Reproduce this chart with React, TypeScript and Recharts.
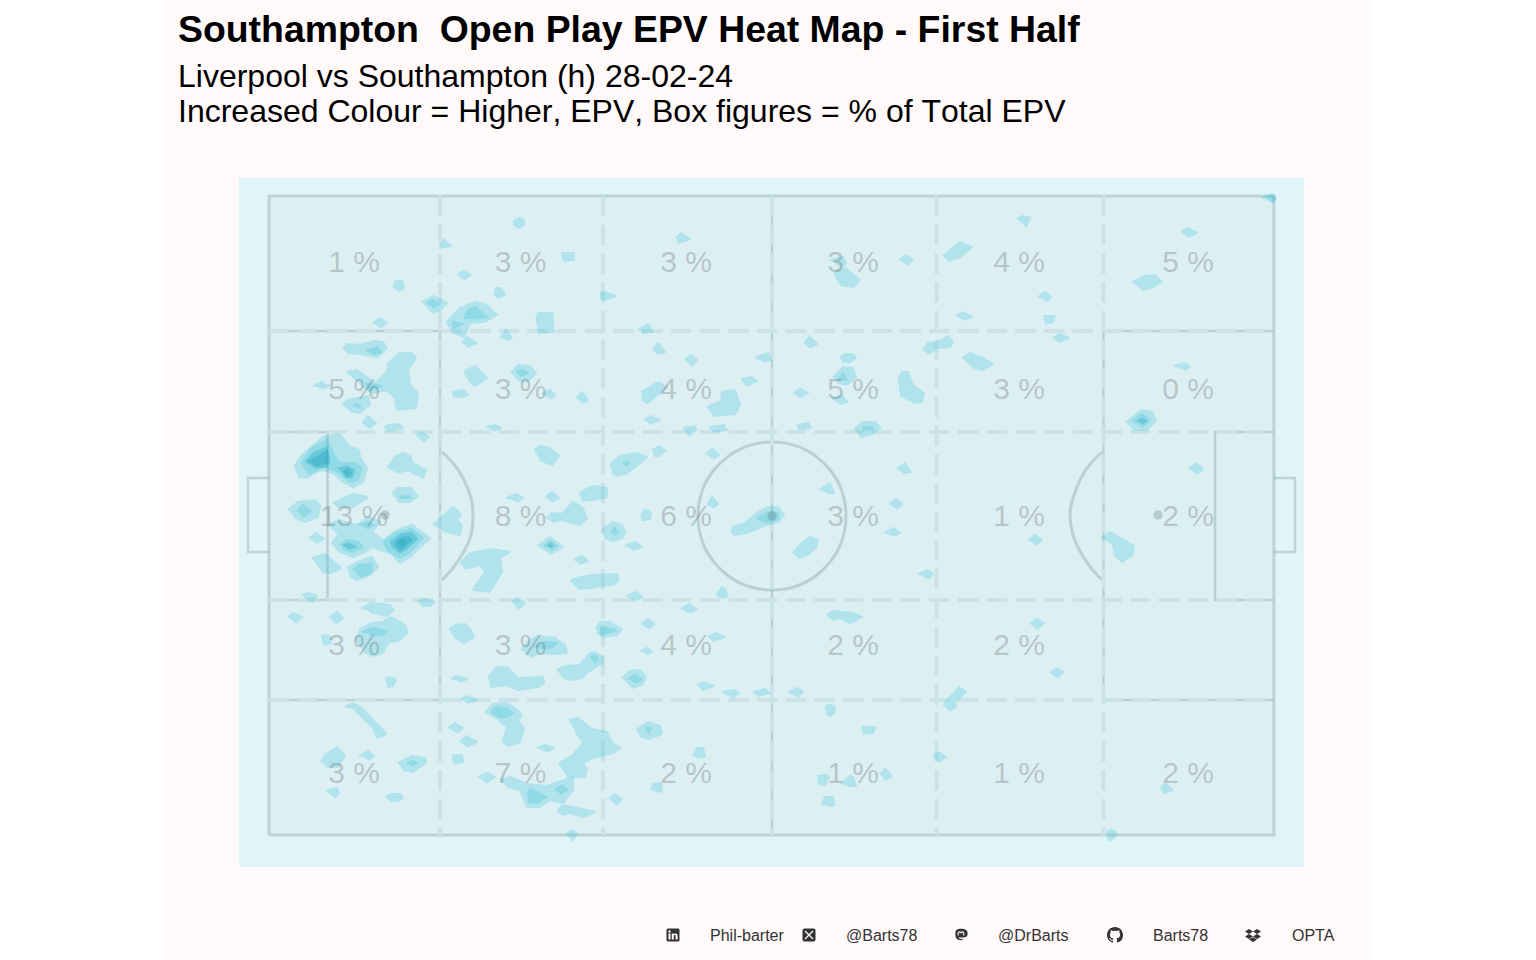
import { ScatterChart, Scatter, XAxis, YAxis } from "recharts";

type Pt = [number, number];

// pitch units: 100.5 long, 63.9 wide
const pitchFill: Pt[] = [[0, 0], [100.5, 0], [100.5, 63.9], [0, 63.9]];

const solidLines: Pt[][] = [
  [[0, 0], [100.5, 0], [100.5, 63.9], [0, 63.9], [0, 0]],
  [[0, 50.4], [17.1, 50.4], [17.1, 13.5], [0, 13.5]],
  [[100.5, 50.4], [83.45, 50.4], [83.45, 13.5], [100.5, 13.5]],
  [[0, 40.3], [5.85, 40.3], [5.85, 23.5], [0, 23.5]],
  [[100.5, 40.3], [94.6, 40.3], [94.6, 23.5], [100.5, 23.5]],
  [[0, 35.7], [-2.1, 35.7], [-2.1, 28.3], [0, 28.3]],
  [[100.5, 35.7], [102.6, 35.7], [102.6, 28.3], [100.5, 28.3]],
  [[50.3, 63.9], [50.3, 0]],
];

const arcLeft: Pt[] = [[17.3, 38.3], [18.4, 37.2], [19.4, 35.7], [20.2, 33.7], [20.4, 32], [20.2, 30], [19.4, 28.2], [18.4, 26.7], [17.3, 25.5]];
const arcRight: Pt[] = [[83.3, 38.3], [82.2, 37.2], [81.2, 35.7], [80.4, 33.7], [80.1, 32], [80.4, 30], [81.2, 28.2], [82.2, 26.7], [83.3, 25.5]];

const dashedLines: Pt[][] = [
  [[0, 50.4], [100.5, 50.4]],
  [[0, 40.3], [100.5, 40.3]],
  [[0, 23.5], [100.5, 23.5]],
  [[0, 13.5], [100.5, 13.5]],
  [[17.1, 63.9], [17.1, 0]],
  [[33.4, 63.9], [33.4, 0]],
  [[50.3, 63.9], [50.3, 0]],
  [[66.75, 63.9], [66.75, 0]],
  [[83.45, 63.9], [83.45, 0]],
];

const spots = [{ x: 11.6, y: 32 }, { x: 50.3, y: 31.9 }, { x: 88.9, y: 32 }];
const centreCircle = [{ x: 50.3, y: 31.9 }];

const boxColumns = [8.5, 25.15, 41.7, 58.4, 75, 91.9];
const boxRows = [57.4, 44.7, 31.95, 19.1, 6.3];
const boxShares = [
  ["1 %", "3 %", "3 %", "3 %", "4 %", "5 %"],
  ["5 %", "3 %", "4 %", "5 %", "3 %", "0 %"],
  ["13 %", "8 %", "6 %", "3 %", "1 %", "2 %"],
  ["3 %", "3 %", "4 %", "2 %", "2 %", ""],
  ["3 %", "7 %", "2 %", "1 %", "1 %", "2 %"],
];

const contourBand1: Pt[][] = [
  [[25, 61.8], [25.5, 61.5], [25.5, 61], [25, 60.7], [24.5, 61], [24.5, 61.5]],
  [[17.4, 59.6], [18.2, 58.9], [17, 58.7]],
  [[29.2, 58.2], [30.5, 58.2], [30.5, 57.5], [29.6, 57.4], [29.3, 57.6]],
  [[18.8, 56], [19.4, 56.4], [20.2, 56], [19.5, 55.5]],
  [[22.5, 54], [22.7, 54.7], [23.2, 54.7], [23.6, 54], [22.8, 53.7]],
  [[33.1, 54.2], [33.4, 54.3], [34.7, 53.9], [33.6, 53.5], [33.1, 53.7]],
  [[12.4, 54.7], [12.7, 55.4], [13.3, 55.4], [13.5, 54.7], [13, 54.4]],
  [[15.3, 53.3], [16.4, 53.9], [17.8, 53.2], [17.1, 52.5], [16.3, 52.2]],
  [[10.4, 51.2], [11.1, 51.7], [11.8, 51.2], [11.1, 50.7]],
  [[17.7, 51.2], [19.1, 52.7], [20.6, 53.3], [21.8, 53], [22.8, 52], [21.6, 51.3], [20.1, 51.2], [19.5, 49.8], [18.3, 50.3]],
  [[26.7, 51.5], [26.9, 52.2], [28.3, 52.2], [28.5, 50.3], [26.9, 50.2]],
  [[23.1, 49.7], [23.7, 50.5], [24.3, 49.7], [23.8, 49.5]],
  [[19.3, 49.2], [19.8, 49.8], [20.8, 49.2], [19.8, 48.8]],
  [[7.4, 48.7], [7.8, 49.1], [9.1, 49], [10.6, 49.4], [11.4, 49.3], [11.8, 48.7], [10.8, 47.8], [9.1, 48.1], [7.8, 48.2]],
  [[7.7, 46.3], [8.8, 46.5], [10.6, 45.2], [11.8, 46.3], [11.9, 47.2], [13.1, 48.2], [14.3, 48.2], [14.7, 47.7], [13.9, 46.5], [14.1, 45], [14.9, 44.2], [14.7, 42.7], [12.8, 42.5], [12.6, 43.7], [11.8, 44.5], [10.4, 44.2], [9.3, 44.9]],
  [[4.4, 44.9], [5.3, 45.3], [6, 44.9], [5.3, 44.6]],
  [[7.3, 43], [7.8, 43.5], [9.9, 43.9], [10.1, 43], [9.1, 42.2], [8.1, 42.4]],
  [[9.3, 41.2], [9.9, 41.9], [10.7, 41.2], [10, 40.6]],
  [[11.5, 40.7], [11.9, 41], [13.1, 41.1], [13.4, 40.7], [11.8, 40.4]],
  [[19.5, 46.3], [20.6, 46.9], [21.8, 45.7], [20.6, 44.9], [19.9, 45.5]],
  [[24.2, 46.2], [24.9, 47], [26.1, 46.9], [26.7, 46.2], [25.8, 45.3], [24.8, 45.5]],
  [[18.3, 44.3], [19.4, 44.5], [19.9, 44], [19.3, 43.8], [18.4, 43.9]],
  [[27.3, 44.1], [28.1, 44.5], [28.6, 44], [28.1, 43.6]],
  [[30.7, 43.7], [31.3, 44.3], [31.9, 43.5], [31.3, 43.2]],
  [[21.7, 40.8], [22.6, 41], [23.2, 40.7], [22.4, 40.4]],
  [[2.5, 36.8], [3.3, 38], [5.4, 39.8], [7.1, 40.1], [8.1, 38.8], [9, 38.5], [9.1, 37.8], [9.8, 36.7], [9.4, 35.3], [8.4, 34.8], [7.4, 35.3], [6.4, 36.2], [5.1, 36.5], [3.8, 35.7], [2.9, 35.8]],
  [[11.8, 36.7], [12.6, 37.8], [13.4, 38.2], [14.2, 37.8], [14.3, 37.2], [15.7, 36.5], [15.4, 35.7], [14.4, 36.2], [13.9, 36.5], [12.8, 36.2]],
  [[12.3, 34.2], [12.9, 34.7], [14.1, 34.7], [14.9, 33.9], [14.1, 33.3], [12.9, 33.3]],
  [[6.4, 33.2], [8.4, 34.1], [9.9, 33.8], [8.4, 32.8], [6.8, 32.8]],
  [[1.9, 32.5], [2.9, 33.3], [4.6, 33.5], [5.1, 33], [4.9, 31.8], [3.6, 31.3], [2.6, 31.7]],
  [[5.9, 31], [6.9, 31.5], [8.8, 31], [9.9, 31.8], [11.1, 31.3], [10.3, 30.3], [11.4, 29.5], [12.8, 30.5], [14.3, 31], [16.1, 29.7], [14.1, 27.8], [13.1, 27.2], [12.1, 28.2], [10.3, 28.8], [9.6, 28.3], [8.4, 27.8], [7.1, 28.3], [6.3, 29.2], [6.9, 30]],
  [[4, 29.7], [4.7, 30.2], [5.5, 29.6], [4.7, 29.2]],
  [[4.3, 27.7], [5.6, 28.1], [7.2, 26.7], [6.3, 26.2], [5.3, 26.3]],
  [[7.8, 26.7], [8.8, 27.3], [10.3, 27.8], [10.9, 26.8], [10.1, 26], [8.8, 25.5], [8.1, 25.8]],
  [[16.4, 31], [18.4, 32.8], [19.2, 32.1], [18.8, 31.5], [19.3, 31], [19.1, 30], [17.4, 30.4]],
  [[14.7, 39.9], [15.3, 40.3], [16, 39.8], [15.4, 39.3]],
  [[26.5, 38.5], [27.1, 38.9], [28.1, 38.7], [29, 37.9], [28.3, 37], [27.1, 37.5]],
  [[23.7, 33.7], [24.8, 34.1], [25.4, 33.7], [24.8, 33.3]],
  [[27.6, 33.8], [28.3, 34.3], [29, 33.7], [28.3, 33.3]],
  [[31, 34.2], [32.4, 34.9], [33.8, 34.7], [33.8, 33.8], [32.4, 33.5], [31.3, 33.4]],
  [[27.7, 31.7], [28.3, 32.2], [29.3, 32.1], [30.4, 33.3], [31.3, 32.8], [31.8, 31.7], [31.1, 31], [29.3, 31.5], [28.3, 31.3]],
  [[26.8, 28.9], [28.1, 29.8], [29.4, 28.8], [28.1, 28.1]],
  [[19.1, 27.2], [20.1, 28.2], [22.4, 28.6], [24.1, 28.3], [23.1, 27.7], [23.3, 26.3], [22.1, 24.3], [20.4, 24.5], [21.6, 26.3], [21.1, 27], [19.6, 26.6]],
  [[30.5, 27.5], [31.3, 27.9], [31.9, 27.4], [31.1, 27.1]],
  [[30.1, 25.4], [31.1, 25.8], [32.4, 26], [34.8, 26.1], [35, 25.5], [34.6, 25.1], [32.1, 24.7], [30.9, 24.6]],
  [[3.3, 24], [4, 24.2], [4.8, 23.9], [4.5, 23.4], [3.8, 23.5]],
  [[14.9, 23.3], [15.4, 23.6], [16.6, 23.3], [16.1, 22.9], [15.3, 22.9]],
  [[24.3, 23.3], [24.9, 23.7], [25.6, 23.2], [24.9, 22.6]],
  [[1.9, 21.8], [2.4, 22.2], [3.3, 21.8], [2.6, 21.2]],
  [[6, 21.7], [6.8, 22.3], [7.4, 21.7], [6.7, 21.1]],
  [[9.2, 22.7], [10.3, 23.2], [12.1, 23], [12.5, 22.5], [11.8, 21.9], [10.1, 22.3]],
  [[9, 20.5], [10.3, 21.2], [11.3, 21.3], [12.3, 21.8], [13.6, 21], [13.9, 20.3], [13.1, 19.5], [11.9, 19.2], [11.4, 18.2], [10.4, 17.9], [9.6, 18.3], [8.6, 19.7]],
  [[5.2, 19.8], [5.6, 20], [6.2, 19.8], [6.2, 19.2], [5.4, 19]],
  [[18, 20.6], [18.6, 21], [19.6, 21.1], [20.3, 20.3], [20.5, 19.8], [19.5, 19.2], [18.4, 19.9]],
  [[25.2, 18.5], [26.1, 19.5], [26.8, 19.9], [28.6, 19.7], [29.6, 19], [29.8, 18.2], [28.6, 18.1], [27.1, 18.2], [26.1, 17.8]],
  [[28.8, 16.5], [29.6, 16.9], [31.1, 17], [32.1, 18.2], [32.6, 18.3], [33.4, 17.7], [33.4, 17.2], [31.9, 16.3], [31.3, 15.7], [30.1, 15.5], [29.3, 15.8]],
  [[32.7, 20.6], [33.1, 21.3], [34.1, 21.3], [35.3, 20.6], [34.8, 20], [33.4, 19.8], [32.8, 20.2]],
  [[18.2, 15.6], [18.8, 15.9], [19.8, 15.6], [19.1, 15.3]],
  [[21.9, 15.8], [22.8, 16.8], [23.9, 16.7], [24.9, 15.7], [27.4, 15.8], [27.5, 15.2], [26.9, 14.8], [24.9, 14.5], [23.8, 15], [22.1, 14.8]],
  [[11.6, 15.6], [12.1, 15.8], [12.7, 15.5], [12.4, 14.9], [11.8, 14.8]],
  [[19.2, 13.6], [19.7, 13.9], [20.8, 13.5], [19.8, 13.2]],
  [[35.3, 15.7], [36.1, 16.4], [37.1, 16.5], [37.7, 15.8], [37.3, 15], [36.3, 14.7]],
  [[7.6, 12.8], [8.4, 13.2], [9.3, 12.7], [10.4, 11.5], [11.1, 10.8], [11.7, 10.1], [10.8, 9.7], [10.4, 10.7], [9.3, 11.8], [8.6, 12.5]],
  [[5.2, 7.3], [5.6, 8], [6.8, 8.8], [7.6, 8], [6.9, 6.8], [5.8, 6.8]],
  [[9, 7.9], [9.9, 8.4], [10.5, 7.9], [9.9, 7.5]],
  [[12.9, 7.2], [14.3, 7.9], [15.6, 7.7], [15.7, 7.2], [14.4, 6.3], [13.4, 6.5]],
  [[5.7, 4.4], [6.8, 4.7], [7, 4.2], [6.6, 3.7]],
  [[11.7, 3.7], [12.1, 4.1], [13.1, 4.1], [13.4, 3.7], [12.8, 3.4], [12.1, 3.4]],
  [[17.9, 10.7], [18.6, 11.2], [19.4, 10.7], [18.8, 10.2]],
  [[19.1, 9.3], [19.7, 9.9], [20.8, 9.3], [19.8, 8.8]],
  [[18.3, 8], [19.3, 8], [19.4, 7.3], [18.4, 7.1]],
  [[20.9, 5.8], [21.8, 6.2], [22.6, 5.8], [21.7, 5.2]],
  [[21.6, 12.2], [22.4, 13.1], [23.8, 13.2], [24.9, 12.5], [25.3, 11.9], [24.8, 11.5], [25.5, 10.7], [25.1, 9.3], [23.9, 8.9], [23.4, 9.3], [23.8, 10.8], [22.9, 11.5]],
  [[30, 11.5], [30.9, 11.7], [32.3, 10.6], [33.8, 10.3], [34.3, 9.2], [35.2, 8.7], [34.4, 8.2], [32.4, 7.7], [31.4, 7.2], [31.8, 6.5], [31.6, 5.8], [29.9, 5.8], [29, 7.2], [30.4, 8], [31.4, 9.3], [30.7, 10.2]],
  [[23.1, 5.5], [24.1, 5.8], [25.8, 5.1], [27.8, 4.9], [30.4, 5.8], [30.4, 4.5], [29.4, 3.2], [28.1, 3.5], [27.1, 2.8], [25.8, 2.8], [25.1, 4.5], [23.8, 4.8]],
  [[28.8, 2.3], [29.3, 3], [30.8, 2.7], [32.6, 2.3], [31.4, 1.8], [30.1, 2.2], [29.3, 2]],
  [[29.7, 0.1], [30.3, 0.5], [30.8, 0.1], [30.3, -0.6]],
  [[26.8, 8.7], [27.6, 9], [28.5, 8.7], [27.7, 8.3]],
  [[34, 3.6], [34.6, 4.1], [35.3, 3.6], [34.7, 3]],
  [[40.7, 59.7], [41.2, 60.2], [42.1, 59.6], [40.9, 59.2]],
  [[36.9, 50.5], [37.9, 51.1], [38.4, 50.3], [37.3, 50.2]],
  [[38.4, 48.5], [38.9, 49.2], [39.6, 48.3], [38.8, 48.1]],
  [[41.6, 47.5], [42.2, 48], [42.8, 47.5], [42.2, 46.9]],
  [[48.6, 47.7], [49.9, 48.2], [50.2, 47.5], [49.4, 47.3]],
  [[47.2, 45.6], [48.3, 45.8], [48.8, 45.4], [47.7, 44.9]],
  [[37.2, 44.3], [38.9, 45.3], [39.8, 44.8], [37.9, 43.2], [37.3, 43.5]],
  [[43.8, 42.8], [45.2, 43.4], [45.3, 44.3], [46.6, 44.5], [47.1, 43], [46.6, 42.1], [44.4, 41.9]],
  [[37.5, 41.5], [38.1, 41.9], [39.1, 41.5], [38.1, 41.1]],
  [[41.4, 40.7], [42.6, 40.9], [42.7, 40.5], [42, 39.9]],
  [[44, 40.8], [45.5, 41], [45.8, 40.5], [44.4, 40.3]],
  [[56.1, 57.5], [57.4, 57.8], [57.7, 57.1], [57.1, 56.8]],
  [[56.5, 56], [56.8, 56.5], [57.6, 56.7], [59.1, 55.5], [58.4, 54.8], [57.1, 55]],
  [[63, 57.5], [63.7, 58], [64.4, 57.5], [63.8, 57]],
  [[67.4, 57.9], [69.1, 59.3], [70.3, 58.8], [69.1, 57.8], [67.9, 57.4]],
  [[53.5, 49.2], [54.1, 49.8], [54.8, 49.1], [54, 48.7]],
  [[57.1, 47.8], [57.6, 48.1], [58.4, 48.1], [58.7, 47.7], [58.1, 47.3], [57.3, 47.3]],
  [[56.4, 45.8], [57.4, 46.8], [58.4, 46.7], [58.7, 45.8], [57.8, 45], [56.9, 45.2]],
  [[52.4, 44.2], [53.1, 44.6], [53.9, 44.2], [53.1, 43.7]],
  [[56.3, 43.6], [57.3, 44], [57.8, 43.3], [57.1, 43.1]],
  [[62.9, 45.5], [63.3, 46.3], [63.9, 46.3], [64.4, 45], [65.5, 44.2], [65.3, 43.3], [64.6, 43.2], [63.1, 44]],
  [[65.4, 48.5], [65.9, 49.2], [66.9, 49.3], [67.9, 49.9], [68.4, 49.3], [68.1, 48.8], [66.9, 48.7], [65.9, 48.1]],
  [[52.8, 41], [53.9, 41.2], [54.2, 40.7], [52.9, 40.6]],
  [[58.5, 40.6], [59.4, 41.3], [60.6, 41.3], [61.2, 40.7], [60.1, 40], [59.1, 39.8]],
  [[69.3, 47.7], [70.1, 48.2], [71.4, 47.7], [72.4, 47.1], [71.3, 46.5], [70.3, 46.8]],
  [[74.8, 61.6], [75.4, 61.9], [76.1, 61.7], [75.7, 60.8]],
  [[91.2, 60.3], [91.8, 60.7], [92.8, 60.2], [91.9, 59.8]],
  [[99.3, 63.7], [100.3, 64.1], [100.7, 63.7], [100.3, 63.2]],
  [[86.3, 55.3], [87.6, 55.9], [88.6, 56], [89.3, 55.3], [88.4, 54.8], [87.3, 54.5]],
  [[76.9, 53.8], [77.6, 54.3], [78.2, 53.8], [77.8, 53.3]],
  [[77.4, 51.9], [78.6, 51.9], [78.4, 51.3], [77.6, 51.1]],
  [[68.7, 51.9], [69.4, 52.3], [70.3, 51.8], [69.4, 51.5]],
  [[78.4, 49.7], [79.1, 50.1], [80, 49.7], [78.9, 49.3]],
  [[90.5, 46.9], [91.6, 47.2], [92.1, 46.8], [91.5, 46.5]],
  [[85.7, 41.3], [87.3, 42.5], [88.3, 42.3], [88.7, 41.5], [87.8, 40.5], [86.4, 40.5]],
  [[92, 36.6], [92.7, 37.2], [93.4, 36.6], [92.8, 36.1]],
  [[75.9, 29.5], [76.6, 30], [77.3, 29.5], [76.7, 29]],
  [[83.2, 29.7], [84.1, 30.3], [86.5, 28.9], [86.4, 28], [85.3, 27.3], [84.6, 28], [84.4, 29]],
  [[76.1, 21.1], [76.7, 21.6], [77.5, 21.2], [76.8, 20.6]],
  [[78.1, 16.2], [78.8, 16.7], [79.5, 16.3], [78.8, 15.7]],
  [[67.4, 13], [68.3, 14], [69, 14.8], [69.7, 14.3], [68.6, 13.3], [68.7, 12.8], [68, 12.4]],
  [[89.1, 4.7], [89.7, 5.1], [90.4, 4.5], [89.4, 4.2]],
  [[83.7, 0.3], [84.2, 0.5], [84.7, 0.3], [84.6, -0.2], [84.1, -0.6], [83.8, -0.2]],
  [[34.1, 37], [35.1, 37.9], [36.8, 38.2], [37.8, 37.8], [35.9, 36.2], [34.8, 35.9], [34.3, 36.2]],
  [[38.3, 38.5], [39, 38.9], [39.7, 38.4], [38.9, 37.9], [38.5, 37.9]],
  [[43.7, 38.1], [44.3, 38.6], [45, 38], [44.4, 37.6]],
  [[43.8, 33], [44.3, 33.8], [44.9, 33.1], [44.4, 32.7]],
  [[37.3, 32.4], [37.9, 32.5], [38.2, 32.2], [38.1, 31.6], [37.4, 31.5], [37.2, 31.9]],
  [[33.3, 30.2], [33.6, 30.8], [34.4, 31.3], [35.3, 31], [35.6, 30.3], [35.3, 29.7], [34.4, 29.4], [33.6, 29.7]],
  [[35.6, 28.9], [36.6, 29.3], [37.3, 28.8], [36.4, 28.5]],
  [[46.2, 30.3], [46.4, 30.8], [47.6, 31.2], [48.8, 32.2], [49.9, 32.8], [50.9, 32.8], [51.5, 32], [50.9, 31.3], [49.4, 30.9], [47.8, 30.2], [46.4, 30]],
  [[52.4, 28.2], [53.4, 29.3], [54.1, 29.8], [54.9, 29.5], [54.7, 28.7], [53.8, 28], [52.9, 27.7]],
  [[55, 34.5], [56.1, 35.2], [56.5, 34.2], [55.8, 34.2]],
  [[62.8, 36.6], [63.6, 37.2], [64.2, 36.3], [63.4, 36.2]],
  [[62, 33.1], [62.7, 33.6], [63.4, 33.1], [62.7, 32.6]],
  [[61.5, 30.2], [62.5, 30.7], [63.1, 30.2], [62.4, 29.9]],
  [[64.9, 26.1], [65.9, 26.5], [66.4, 26.1], [65.9, 25.6]],
  [[44.7, 24], [45.3, 24.8], [45.7, 24.5], [45.8, 23.8], [45.1, 23.7]],
  [[35.7, 23.9], [36.8, 24.3], [37.3, 23.8], [36.6, 23.4]],
  [[41.2, 22.6], [42, 23.1], [42.8, 22.6], [42, 22.2]],
  [[37.2, 21.1], [37.9, 21.6], [38.6, 21.1], [37.9, 20.6]],
  [[43.9, 19.8], [44.6, 20.2], [45.6, 19.8], [44.4, 19.4]],
  [[55.7, 22], [56.4, 22.4], [58.4, 22.2], [59.3, 21.8], [58.1, 21.2], [57.1, 21.7], [56.3, 21.5]],
  [[37.1, 18.4], [37.8, 18.7], [38.3, 18.3], [37.7, 18.1]],
  [[42.8, 15], [43.3, 15.3], [44.5, 14.9], [43.3, 14.5]],
  [[45.3, 14.3], [46.6, 14.5], [47, 14.2], [46.3, 13.7]],
  [[48.4, 14.3], [49.6, 14.6], [50.1, 14.2], [48.8, 13.9]],
  [[51.9, 14.3], [52.9, 14.7], [53.4, 14.3], [52.8, 13.8]],
  [[55.6, 12.8], [56.1, 13.1], [56.6, 12.8], [56.5, 12.2], [56.1, 11.9], [55.7, 12.2]],
  [[59.2, 10.8], [60.6, 10.8], [60.4, 10.2], [59.4, 10.1]],
  [[36.7, 10.5], [37.9, 11.3], [39.1, 10.9], [39.3, 10.1], [37.9, 9.6], [37.1, 9.9]],
  [[42.4, 7.9], [42.8, 8.7], [43.4, 8.7], [43.6, 7.8], [42.8, 7.7]],
  [[38.2, 4.5], [38.4, 5.1], [39.2, 5.2], [39.3, 4.4], [38.8, 4.3]],
  [[54.8, 5.9], [55.8, 6], [56, 5.8], [55.6, 5], [54.9, 5.1]],
  [[57.2, 5.1], [58.1, 5.9], [58.4, 5.8], [58.7, 4.9], [57.9, 4.9]],
  [[61.1, 6.1], [61.6, 6.6], [62.3, 5.9], [61.6, 5.5]],
  [[55.3, 3], [55.6, 3.8], [56.4, 3.8], [56.5, 2.9], [55.7, 3]],
  [[66.4, 7.8], [67, 8.3], [67.7, 7.8], [67, 7.3]],
];

const contourBand2: Pt[][] = [
  [[15.8, 53.2], [16.4, 53.5], [17.1, 53.1], [16.4, 52.7]],
  [[19.5, 51.6], [19.9, 52.5], [20.6, 52.8], [21.8, 51.8], [20.4, 51.6]],
  [[18.3, 51.3], [19.4, 51.1], [18.4, 50.7]],
  [[9.7, 48.4], [10.8, 48.8], [11.3, 48.2], [10.3, 48.1]],
  [[9.6, 45.2], [11.3, 44.9], [9.9, 44.4]],
  [[8.4, 42.8], [8.8, 43.2], [9.2, 42.7]],
  [[24.7, 46.3], [25.3, 46.5], [25.9, 46.2], [25.1, 45.9]],
  [[3.2, 37.2], [4.3, 38.7], [5.8, 39.5], [6.4, 38.2], [7.1, 37.2], [8.6, 37.2], [9.3, 36.7], [8.9, 35.5], [8.1, 35.3], [6.8, 36.3], [5.6, 36.8], [3.9, 36.1]],
  [[13, 33.8], [14.1, 33.9], [14.1, 33.7], [13.1, 33.7]],
  [[2.8, 32.4], [3.4, 33], [4.2, 32.4], [3.4, 31.8]],
  [[11.4, 29.2], [12.6, 30.2], [14.3, 30.6], [15.4, 29.7], [14.1, 28.3], [13.1, 27.7], [11.8, 28.5]],
  [[9, 31.1], [9.9, 31.3], [10.5, 31], [9.8, 30.6]],
  [[7.1, 29], [7.8, 29.5], [8.9, 29.3], [9.4, 28.8], [8.3, 28.3], [7.4, 28.6]],
  [[8.4, 26.5], [8.9, 27], [10.3, 27.1], [10.3, 26.3], [9.1, 25.8]],
  [[27.5, 28.9], [28.1, 29.4], [28.8, 28.9], [28.2, 28.5]],
  [[9.3, 20.3], [10.4, 20.7], [11.8, 20.4], [11.3, 20], [10.1, 20]],
  [[26.4, 18.8], [27.4, 19.3], [28.8, 19.2], [28.3, 18.7], [27.1, 18.7]],
  [[32.1, 17.7], [32.5, 18], [32.9, 17.6], [32.5, 17.2]],
  [[33.1, 20.8], [33.9, 20.7], [34.7, 20.5], [33.8, 20.2], [33.1, 20.1]],
  [[35.9, 15.6], [36.6, 16], [37.3, 15.6], [36.6, 15.2]],
  [[13.8, 7.2], [14.3, 7.4], [14.8, 7.2], [14.3, 6.9]],
  [[22.2, 12.2], [22.7, 12.8], [23.8, 12.6], [24.4, 12.2], [23.8, 11.8], [22.8, 11.8]],
  [[25.8, 4.2], [26.1, 4.6], [27.7, 3.8], [26.8, 3.2], [25.9, 3.3]],
  [[28.6, 4.5], [29.3, 5], [29.8, 4.5], [29.1, 4.1]],
  [[56.9, 45.5], [57.4, 46.2], [57.8, 45.4]],
  [[59.3, 40.8], [60.4, 40.8], [60.4, 40.6], [59.4, 40.5]],
  [[99.8, 63.7], [100.4, 63.9], [100.6, 63.6], [100.3, 63.3]],
  [[86.3, 41.4], [87.3, 42.1], [88.1, 41.5], [87.3, 40.8]],
  [[35.4, 37.2], [35.8, 37.3], [36, 37.2], [35.7, 36.9]],
  [[34.2, 30.3], [34.6, 30.7], [34.9, 30.3], [34.5, 30]],
  [[48.8, 31.6], [49.9, 32.3], [50.9, 32.2], [50.9, 31.6], [49.6, 31.2]],
  [[37.6, 10.7], [38.2, 10.7], [37.9, 10.1]],
];

const contourBand3: Pt[][] = [
  [[3.6, 37.3], [4.4, 38.2], [5.8, 38.8], [6.1, 37.3], [5.8, 36.8], [4.6, 36.7]],
  [[6.9, 36.7], [7.8, 36.9], [8.6, 36.5], [8.3, 35.7], [7.6, 35.8]],
  [[12.1, 29.3], [13.1, 30.1], [14.3, 30.3], [14.9, 29.6], [13.9, 28.7], [13.1, 28.2], [12.3, 28.8]],
  [[7.4, 29], [7.9, 29.2], [8.8, 28.8], [7.9, 28.6]],
  [[27.8, 28.9], [28.2, 29.2], [28.4, 28.9], [28.2, 28.7]],
  [[86.8, 41.4], [87.3, 41.7], [87.8, 41.4], [87.3, 41.1]],
];

const contourBand4: Pt[][] = [
  [[3.9, 37.4], [4.8, 37.8], [5.8, 38.5], [5.9, 37.2], [4.8, 36.8]],
  [[7.4, 36.3], [7.9, 36.7], [8.3, 36.2], [7.8, 35.8]],
  [[12.6, 29.3], [13.3, 29.8], [14.1, 29.8], [14.3, 29.5], [13.6, 28.8], [13.1, 28.5], [12.6, 28.9]],
];

const contourBand5: Pt[][] = [
  [[12.9, 29.3], [13.4, 29.6], [13.7, 29.3], [13.3, 28.8]],
];

const contourBands = [contourBand1, contourBand2, contourBand3, contourBand4, contourBand5];
const bandFills = ["#2CBED3", "#2CBED3", "#12A5C3", "#0A98B1", "#0891AF"];
const bandOpacity = [0.24, 0.24, 0.32, 0.26, 0.22];

const lineColor = "rgba(107,138,144,0.3)";
const font = '"Liberation Sans", Arial, sans-serif';

const toPoints = (pts: Pt[]) => pts.map(([x, y]) => ({ x, y }));
const noMark = () => <g />;

const shareLabels = boxRows.flatMap((y, r) =>
  boxColumns.map((x, c) => ({ x, y, label: boxShares[r][c] }))
).filter((d) => d.label !== "");

function Pitch() {
  return (
    <ScatterChart width={1065} height={689} margin={{ top: 0, right: 0, bottom: 0, left: 0 }} style={{ background: "#E0F5F9" }}>
      <XAxis type="number" dataKey="x" domain={[-3, 103.5]} hide allowDataOverflow />
      <YAxis type="number" dataKey="y" domain={[-3.2, 65.7]} hide allowDataOverflow />

      <Scatter data={toPoints(pitchFill)} shape={noMark} isAnimationActive={false} line={{ stroke: "none", fill: "#DCF0F4" }} />

      {solidLines.map((pts, i) => (
        <Scatter key={"solid" + i} data={toPoints(pts)} shape={noMark} isAnimationActive={false}
          line={{ stroke: lineColor, strokeWidth: i === 0 ? 3 : 2.5, fill: "none" }} />
      ))}
      {[arcLeft, arcRight].map((pts, i) => (
        <Scatter key={"arc" + i} data={toPoints(pts)} shape={noMark} isAnimationActive={false} lineJointType="natural"
          line={{ stroke: lineColor, strokeWidth: 3, fill: "none" }} />
      ))}
      <Scatter data={centreCircle} isAnimationActive={false}
        shape={(p: any) => <circle cx={p.cx} cy={p.cy} r={74} fill="none" stroke={lineColor} strokeWidth={3} />} />

      {dashedLines.map((pts, i) => (
        <Scatter key={"dash" + i} data={toPoints(pts)} shape={noMark} isAnimationActive={false}
          line={{ stroke: "#C9E3E8", strokeWidth: 4, strokeDasharray: "20.5 8.2", fill: "none" }} />
      ))}

      {/* round stroke + element opacity softens the hand-read polygon corners */}
      {contourBands.map((band, b) =>
        band.map((pts, i) => (
          <Scatter key={"c" + b + "-" + i} data={toPoints(pts)} shape={noMark} isAnimationActive={false}
            line={{
              stroke: bandFills[b],
              strokeWidth: b < 2 ? 2 : 1,
              strokeLinejoin: "round",
              fill: bandFills[b],
              opacity: bandOpacity[b],
            }} />
        ))
      )}

      <Scatter data={spots} isAnimationActive={false}
        shape={(p: any) => <circle cx={p.cx} cy={p.cy} r={4.7} fill="rgba(107,138,144,0.35)" />} />

      <Scatter data={shareLabels} isAnimationActive={false}
        shape={(p: any) => (
          <text x={p.cx} y={p.cy} textAnchor="middle" dominantBaseline="central" fill="rgba(90,90,90,0.3)" fontSize={30} fontFamily={font}>
            {p.payload.label}
          </text>
        )} />
    </ScatterChart>
  );
}

const iconColor = "#333333";

const LinkedinIcon = () => (
  <svg width="14" height="14" viewBox="0 0 14 14">
    <rect x="0.5" y="0.5" width="13" height="13" rx="1.5" fill={iconColor} />
    <rect x="2.5" y="5.5" width="2" height="6" fill="#FFF9F9" />
    <circle cx="3.5" cy="3.5" r="1.2" fill="#FFF9F9" />
    <path d="M5.8 5.5h1.9v.9c.4-.7 1.1-1 1.9-1 1.5 0 2 1 2 2.4v3.7h-2V8.2c0-.7-.2-1.1-.8-1.1-.7 0-1 .5-1 1.2v3.2h-2z" fill="#FFF9F9" />
  </svg>
);
const XIcon = () => (
  <svg width="14" height="14" viewBox="0 0 14 14">
    <rect x="0.5" y="0.5" width="13" height="13" rx="2" fill={iconColor} />
    <path d="M3 3l8 8M11 3l-8 8" stroke="#FFF9F9" strokeWidth="1.2" />
  </svg>
);
const MastodonIcon = () => (
  <svg width="14" height="14" viewBox="0 0 14 14">
    <path d="M7 0.8c-3.6 0-5.6 1-5.6 4.4 0 3.4.2 5.6 2.8 6.6 1.5.5 3 .6 4.4.1v-1.2c-1.6.4-4 .3-4-1.4 2.4.5 7.6.6 8.5-1.4.3-.8.5-1.7.5-2.7 0-3.4-3-4.4-6.6-4.4z" fill={iconColor} />
    <path d="M4.2 7.4V5c0-1.4 2.4-1.6 2.8 0 .4-1.6 2.8-1.4 2.8 0v2.4" fill="none" stroke="#FFF9F9" strokeWidth="1.1" />
  </svg>
);
const GithubIcon = () => (
  <svg width="16" height="16" viewBox="0 0 16 16">
    <path fill={iconColor} d="M8 0C3.58 0 0 3.58 0 8c0 3.54 2.29 6.53 5.47 7.59.4.07.55-.17.55-.38 0-.19-.01-.82-.01-1.49-2.01.37-2.53-.49-2.69-.94-.09-.23-.48-.94-.82-1.13-.28-.15-.68-.52-.01-.53.63-.01 1.08.58 1.23.82.72 1.21 1.87.87 2.33.66.07-.52.28-.87.51-1.07-1.78-.2-3.64-.89-3.64-3.95 0-.87.31-1.59.82-2.15-.08-.2-.36-1.02.08-2.12 0 0 .67-.21 2.2.82.64-.18 1.32-.27 2-.27.68 0 1.36.09 2 .27 1.53-1.04 2.2-.82 2.2-.82.44 1.1.16 1.92.08 2.12.51.56.82 1.27.82 2.15 0 3.07-1.87 3.75-3.65 3.95.29.25.54.73.54 1.48 0 1.07-.01 1.93-.01 2.2 0 .21.15.46.55.38A8.013 8.013 0 0016 8c0-4.42-3.58-8-8-8z" />
  </svg>
);
const DropboxIcon = () => (
  <svg width="16" height="14" viewBox="0 0 16 14">
    <path fill={iconColor} d="M4 1L8 3.5 4 6 0 3.5zM12 1l4 2.5L12 6 8 3.5zM4 6l4 2.5L4 11 0 8.5zM12 6l4 2.5-4 2.5-4-2.5zM4 11.6l4-2.4 4 2.4-4 2.4z" />
  </svg>
);

const captionTexts = ["Phil-barter", "@Barts78", "@DrBarts", "Barts78", "OPTA"];
const captionTextLeft = [710, 846, 998, 1153, 1292];
const captionIconLeft = [666, 802, 954, 1107, 1245];
const captionIconTop = [928, 928, 928, 927, 928];
const captionIcons = [LinkedinIcon, XIcon, MastodonIcon, GithubIcon, DropboxIcon];

export default function App() {
  return (
    <div style={{ position: "fixed", left: 0, top: 0, width: 1536, height: 960, background: "#ffffff", fontFamily: font, overflow: "hidden" }}>
      <div style={{ position: "absolute", left: 163, top: 0, width: 1208, height: 960, background: "#FFF9F9" }} />
      <div style={{ position: "absolute", left: 178, top: 9, fontSize: 37.4, fontWeight: 700, lineHeight: "40px", whiteSpace: "pre", color: "#000" }}>
        {"Southampton  Open Play EPV Heat Map - First Half"}
      </div>
      <div style={{ position: "absolute", left: 178, top: 59, fontSize: 32, lineHeight: "35px", whiteSpace: "pre", color: "#000", fontKerning: "none" }}>
        {"Liverpool vs Southampton (h) 28-02-24\nIncreased Colour = Higher, EPV, Box figures = % of Total EPV"}
      </div>
      <div style={{ position: "absolute", left: 239, top: 178 }}>
        <Pitch />
      </div>
      {captionTexts.map((t, i) => (
        <div key={t} style={{ position: "absolute", left: captionTextLeft[i], top: 927, fontSize: 16, lineHeight: "18px", color: "#333", whiteSpace: "pre" }}>{t}</div>
      ))}
      {captionIcons.map((Icon, i) => (
        <div key={i} style={{ position: "absolute", left: captionIconLeft[i], top: captionIconTop[i], lineHeight: 0 }}><Icon /></div>
      ))}
    </div>
  );
}
